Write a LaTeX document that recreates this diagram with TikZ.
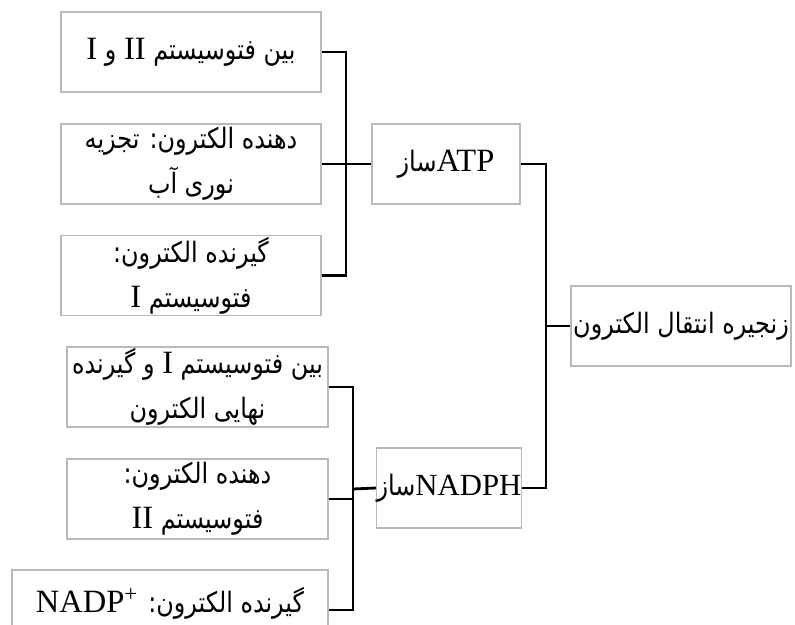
\documentclass[tikz,border=0pt]{standalone}
\usepackage{fontspec}
\setmainfont{Liberation Serif}
\newfontfamily\persianfont[Script=Arabic, FakeStretch=0.85]{DejaVu Sans}
\newfontfamily\latinfont{Liberation Serif}
\TeXXeTstate=1
\newcommand{\rtltext}[1]{\beginR#1\endR}
\newcommand{\lat}[1]{{\latinfont\fontsize{18.5}{25}\selectfont#1}}

\tikzset{
  box/.style={draw=gray!55, line width=0.8pt, minimum height=1.6cm, inner sep=0pt,
    align=center, font=\persianfont\fontsize{16}{25.5}\selectfont},
  link/.style={black, line width=1.6pt},
}

\begin{document}
\begin{tikzpicture}[x=0.02cm, y=-0.02cm]
  \useasboundingbox (0,0) rectangle (795,625);
  \clip (0,0) rectangle (795,625);

  % جعبه های بالا
  \node[box, minimum width=5.2cm] (pass1) at (191,52) {\rtltext{بین فتوسیستم \lat{II} و \lat{I}}};
  \node[box, minimum width=5.2cm] (donor1) at (191,164) {\rtltext{دهنده الکترون: تجزیه}\\\rtltext{نوری آب}};
  \node[box, minimum width=5.2cm] (accept1) at (191,275.5) {\rtltext{گیرنده الکترون:}\\\rtltext{فتوسیستم \lat{I}}};

  % جعبه های پایین
  \node[box, minimum width=5.22cm] (pass2) at (197.5,387) {\rtltext{بین فتوسیستم \lat{I} و گیرنده}\\\rtltext{نهایی الکترون}};
  \node[box, minimum width=5.22cm] (donor2) at (197.5,499) {\rtltext{دهنده الکترون:}\\\rtltext{فتوسیستم \lat{II}}};
  \node[box, minimum width=6.32cm] (accept2) at (170,610) {\raisebox{11pt}{\rtltext{گیرنده الکترون: \lat{\beginL NADP\textsuperscript{+}\endL}}}};

  % ATPساز و NADPHساز
  \node[box, minimum width=2.96cm] (atp) at (446,164) {\rtltext{\lat{ATP}ساز}};
  \node[box, minimum width=2.84cm] (nadph) at (449,488) {\rtltext{{\latinfont\fontsize{17.5}{25}\selectfont NADPH}ساز}};

  % زنجیره
  \node[box, minimum width=4.4cm] (chain) at (681,326) {\rtltext{زنجیره انتقال الکترون}};

  % اتصال ها
  \coordinate (jtop) at (346,164);
  \coordinate (jbot) at (353,489);
  \coordinate (jmid) at (546,326);

  \draw[link] (pass1.east) -| (jtop) |- (accept1.east);
  \draw[link] (donor1.east) -- (atp.west);
  \draw[link] (pass2.east) -| (jbot) |- (accept2.east);
  \draw[link] (donor2.east) -- (donor2.east -| jbot);
  \draw[link] (jbot) -- (nadph.west);
  \draw[link] (atp.east) -| (jmid) |- (nadph.east);
  \draw[link] (jmid) -- (chain.west);
\end{tikzpicture}
\end{document}
